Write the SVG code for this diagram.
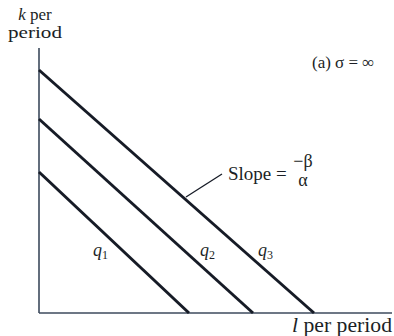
<svg xmlns="http://www.w3.org/2000/svg" width="394" height="336" viewBox="0 0 394 336">
<style>
text{font-family:"Liberation Serif","DejaVu Serif","Times New Roman",serif;fill:#1c1f26}
.it{font-style:italic}
.axis{stroke:#3c4a5c;stroke-width:1.6;fill:none}
.iso{stroke:#161b26;stroke-width:3;fill:none;stroke-linecap:butt}
.lead{stroke:#161b26;stroke-width:1.3;fill:none}
</style>
<rect width="394" height="336" fill="#ffffff"/>
<g id="axes">
<line class="axis" x1="39" y1="48" x2="39" y2="313"/>
<line class="axis" x1="39" y1="313" x2="392" y2="313"/>
</g>
<g id="connectors">
<line class="iso" x1="39" y1="70" x2="314" y2="313"/>
<line class="iso" x1="39" y1="119" x2="253" y2="313"/>
<line class="iso" x1="39" y1="172" x2="189" y2="313"/>
<line class="lead" x1="186" y1="197" x2="222" y2="174"/>
</g>
<g id="ylabel">
<text x="35" y="20" font-size="17" text-anchor="middle"><tspan class="it">k</tspan> per</text>
<text x="35" y="38" font-size="17" text-anchor="middle" textLength="54" lengthAdjust="spacingAndGlyphs">period</text>
</g>
<g id="title">
<text x="312" y="68" font-size="17">(a) σ = ∞</text>
</g>
<g id="slope">
<text x="228" y="180" font-size="19">Slope =</text>
<text x="303" y="167" font-size="18" text-anchor="middle">−β</text>
<text x="303" y="186" font-size="18" text-anchor="middle">α</text>
</g>
<g id="q1"><text x="93" y="256" font-size="18" class="it">q<tspan font-size="12" dy="3" font-style="normal">1</tspan></text></g>
<g id="q2"><text x="200" y="256" font-size="18" class="it">q<tspan font-size="12" dy="3" font-style="normal">2</tspan></text></g>
<g id="q3"><text x="258" y="256" font-size="18" class="it">q<tspan font-size="12" dy="3" font-style="normal">3</tspan></text></g>
<g id="xlabel">
<text x="292" y="332" font-size="20" textLength="100" lengthAdjust="spacingAndGlyphs"><tspan class="it">l</tspan> per period</text>
</g>
</svg>
